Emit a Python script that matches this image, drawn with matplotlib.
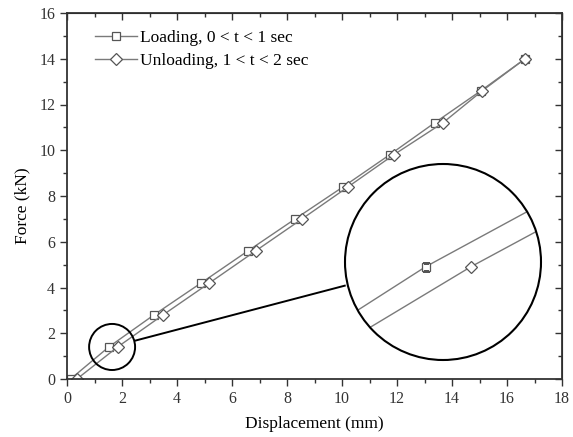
import numpy as np
import matplotlib.pyplot as plt
from matplotlib.patches import Circle, Ellipse

plt.rcParams['font.family'] = ['Liberation Serif', 'DejaVu Serif']

# force steps (kN) and displacements (mm)
force = [0.0, 1.4, 2.8, 4.2, 5.6, 7.0, 8.4, 9.8, 11.2, 12.6, 14.0]
disp_loading = [0.13, 1.52, 3.16, 4.88, 6.58, 8.30, 10.04, 11.73, 13.37, 15.05, 16.66]
disp_unloading = [0.36, 1.84, 3.49, 5.18, 6.86, 8.55, 10.22, 11.88, 13.67, 15.10, 16.66]

labels = ['Loading, 0 < t < 1 sec', 'Unloading, 1 < t < 2 sec']

line_col = '#7a7a7a'
edge_col = '#555555'

fig = plt.figure(figsize=(5.73, 4.37), dpi=100)
W, H = 573, 437
ax = fig.add_axes([67 / W, 1 - 379 / H, (562 - 67) / W, (379 - 13) / H])

ax.plot(disp_loading, force, color=line_col, lw=1.0, marker='s', ms=5.5,
        mfc='white', mec=edge_col, mew=0.9, label=labels[0])
ax.plot(disp_unloading, force, color=line_col, lw=1.0, marker='D', ms=6,
        mfc='white', mec=edge_col, mew=0.9, label=labels[1])
ax.set_xlim(0, 18)
ax.set_ylim(0, 16)
ax.set_xticks(np.arange(0, 19, 2))
ax.set_xticks(np.arange(0, 19, 1), minor=True)
ax.set_yticks(np.arange(0, 17, 2))
ax.set_yticks(np.arange(0, 17, 1), minor=True)
ax.tick_params(which='both', direction='out', labelsize=11.5, colors='#333333', width=1.0)
ax.tick_params(which='major', length=5)
ax.tick_params(which='minor', length=3)
for s in ax.spines.values():
    s.set_linewidth(1.3)
    s.set_color('#333333')
ax.set_xlabel('Displacement (mm)', fontsize=12.5)
ax.set_ylabel('Force (kN)', fontsize=12.5)
ax.xaxis.set_label_coords(0.5, -0.102)
ax.yaxis.set_label_coords(-0.074, 0.473)

# mirrored ticks on top and right pointing inward
top = ax.secondary_xaxis('top')
top.set_xticks(np.arange(0, 19, 2))
top.set_xticks(np.arange(0, 19, 1), minor=True)
top.tick_params(which='both', direction='in', labeltop=False, colors='#333333', width=1.0)
top.tick_params(which='major', length=5)
top.tick_params(which='minor', length=3)
right = ax.secondary_yaxis('right')
right.set_yticks(np.arange(0, 17, 2))
right.set_yticks(np.arange(0, 17, 1), minor=True)
right.tick_params(which='both', direction='in', labelright=False, colors='#333333', width=1.0)
right.tick_params(which='major', length=5)
right.tick_params(which='minor', length=3)

ax.legend(loc='upper left', bbox_to_anchor=(0.025, 0.996), frameon=False,
          fontsize=12.5, handlelength=2.4, handletextpad=0.2, labelspacing=0.36)

# highlight circle on the main plot
cx, cy = 1.64, 1.40
ax.add_patch(Ellipse((cx, cy), 2 * 0.836, 2 * 1.007, fill=False, ec='black', lw=1.4, zorder=5))

# zoomed inset, clipped to a circle
R = 98
icx, icy = 443, 262
ax_in = fig.add_axes([(icx - R) / W, 1 - (icy + R) / H, 2 * R / W, 2 * R / H])
ax_in.set_xlim(1.642 - 0.692, 1.642 + 0.692)
ax_in.set_ylim(1.452 - 1.089, 1.452 + 1.089)
ax_in.axis('off')
ax_in.patch.set_alpha(0)
clip = Circle((0.5, 0.5), 0.5, transform=ax_in.transAxes)
ax_in.add_patch(Circle((0.5, 0.5), 0.5, transform=ax_in.transAxes, fc='white', ec='none', zorder=0))
lines = ax_in.plot(disp_loading, force, color=line_col, lw=1.0, marker='s', ms=5.5,
                   mfc='white', mec=edge_col, mew=0.9)
lines += ax_in.plot(disp_unloading, force, color=line_col, lw=1.0, marker='D', ms=6,
                    mfc='white', mec=edge_col, mew=0.9)
for ln in lines:
    ln.set_clip_path(clip)
ax_in.add_patch(Circle((0.5, 0.5), 0.5, transform=ax_in.transAxes, fill=False,
                       ec='black', lw=1.5, zorder=10, clip_on=False))

# connector from the small circle to the inset
ax.plot([2.49, 10.1], [1.68, 4.08], color='black', lw=1.4, zorder=5)

fig.savefig('out.png', dpi=100)
